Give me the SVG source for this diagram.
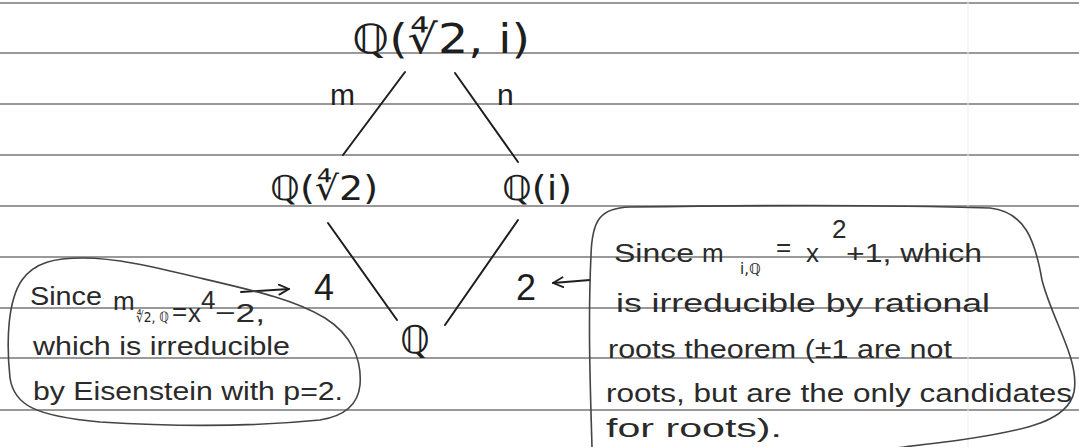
<svg xmlns="http://www.w3.org/2000/svg" width="1079" height="447" viewBox="0 0 1079 447">
<style>
.rule{stroke:#999;stroke-width:2;fill:none}
.ink{stroke:#1e1e1e;stroke-width:2;fill:none;stroke-linecap:round;stroke-linejoin:round}
.loop{stroke:#444;stroke-width:1.6;fill:none}
.t{font-family:"Liberation Sans","DejaVu Sans",sans-serif;fill:#1e1e1e}
.m{font-family:"DejaVu Sans","Liberation Sans",sans-serif;fill:#1e1e1e}
.note{font-family:"Liberation Sans","DejaVu Sans",sans-serif;fill:#2a2a2a;font-size:26px}
</style>
<defs>
<marker id="ah" viewBox="0 0 12 12" refX="11" refY="6" markerWidth="12" markerHeight="12" markerUnits="userSpaceOnUse" orient="auto">
<path d="M1,1 L11,6 L1,11" fill="none" stroke="#1e1e1e" stroke-width="1.8" stroke-linecap="round" stroke-linejoin="round"/>
</marker>
</defs>
<rect width="1079" height="447" fill="#ffffff"/>
<g id="paper">
<line class="rule" x1="0" y1="3" x2="1079" y2="3"/>
<line class="rule" x1="0" y1="53" x2="1079" y2="53"/>
<line class="rule" x1="0" y1="104" x2="1079" y2="104"/>
<line class="rule" x1="0" y1="155" x2="1079" y2="155"/>
<line class="rule" x1="0" y1="206" x2="1079" y2="206"/>
<line class="rule" x1="0" y1="257" x2="1079" y2="257"/>
<line class="rule" x1="0" y1="308" x2="1079" y2="308"/>
<line class="rule" x1="0" y1="358" x2="1079" y2="358"/>
<line class="rule" x1="0" y1="410" x2="1079" y2="410"/>
<line x1="968" y1="0" x2="968" y2="447" stroke="#ececec" stroke-width="1"/>
</g>
<g id="connectors">
<line class="ink" x1="405" y1="72" x2="343" y2="155"/>
<line class="ink" x1="455" y1="73" x2="518" y2="162"/>
<line class="ink" x1="328" y1="223" x2="397" y2="320"/>
<line class="ink" x1="518" y1="220" x2="445" y2="325"/>
<text class="t" x="330" y="105" font-size="30">m</text>
<text class="t" x="497" y="105" font-size="30">n</text>
<text class="t" x="314" y="300" font-size="36">4</text>
<text class="t" x="516" y="300" font-size="36">2</text>
<line class="ink" x1="241" y1="292" x2="289" y2="289" marker-end="url(#ah)"/>
<line class="ink" x1="590" y1="280" x2="553" y2="283" marker-end="url(#ah)"/>
</g>
<g id="node-top">
<text class="m" x="352" y="53" font-size="40" textLength="178" lengthAdjust="spacingAndGlyphs">ℚ(∜2, i)</text>
</g>
<g id="node-left">
<text class="m" x="270" y="200" font-size="34" textLength="108" lengthAdjust="spacingAndGlyphs">ℚ(∜2)</text>
</g>
<g id="node-right">
<text class="m" x="502" y="200" font-size="34" textLength="70" lengthAdjust="spacingAndGlyphs">ℚ(i)</text>
</g>
<g id="node-bottom">
<text class="m" x="400" y="353" font-size="38">ℚ</text>
</g>
<g id="note-left">
<path class="loop" d="M83,258 C55,258 35,262 22,280 C8,300 6,340 10,378 C14,405 35,416 100,422 C180,427 260,426 320,420 C345,416 358,405 360,385 C362,360 352,335 325,318 C295,300 260,292 200,278 C150,266 115,258 83,258 Z"/>
<text class="note" x="30" y="305" font-size="28" textLength="72" lengthAdjust="spacingAndGlyphs">Since</text>
<text class="note" x="113" y="310" font-size="24">m</text>
<text class="m" x="136" y="322" font-size="14" textLength="33" lengthAdjust="spacingAndGlyphs">∜2, ℚ</text>
<text class="note" x="172" y="320" font-size="22">=</text>
<text class="note" x="188" y="322" font-size="24">x</text>
<text class="note" x="201" y="309" font-size="13">4</text>
<text class="note" x="215" y="322" font-size="24" textLength="50" lengthAdjust="spacingAndGlyphs">−2,</text>
<text class="note" x="33" y="355" textLength="257" lengthAdjust="spacingAndGlyphs">which is irreducible</text>
<text class="note" x="33" y="400" textLength="310" lengthAdjust="spacingAndGlyphs">by Eisenstein with p=2.</text>
</g>
<g id="note-right">
<path class="loop" d="M592,447 C590,380 588,320 591,255 C592,220 600,208 630,207 C760,205 900,205 990,208 C1025,212 1035,240 1042,280 C1052,320 1080,360 1074,392 C1068,420 1030,430 960,440 C930,444 900,447 890,449"/>
<text class="note" x="614" y="262" textLength="80" lengthAdjust="spacingAndGlyphs">Since</text>
<text class="note" x="702" y="262">m</text>
<text class="m" x="740" y="274" font-size="15">i,ℚ</text>
<text class="note" x="776" y="256" font-size="24">=</text>
<text class="note" x="806" y="262">x</text>
<text class="note" x="832" y="238" font-size="15">2</text>
<text class="note" x="846" y="262" textLength="136" lengthAdjust="spacingAndGlyphs">+1, which</text>
<text class="note" x="616" y="312" textLength="374" lengthAdjust="spacingAndGlyphs">is irreducible by rational</text>
<text class="note" x="608" y="358" textLength="344" lengthAdjust="spacingAndGlyphs">roots theorem (±1 are not</text>
<text class="note" x="606" y="402" textLength="466" lengthAdjust="spacingAndGlyphs">roots, but are the only candidates</text>
<text class="note" x="606" y="437" textLength="176" lengthAdjust="spacingAndGlyphs">for roots).</text>
</g>
</svg>
